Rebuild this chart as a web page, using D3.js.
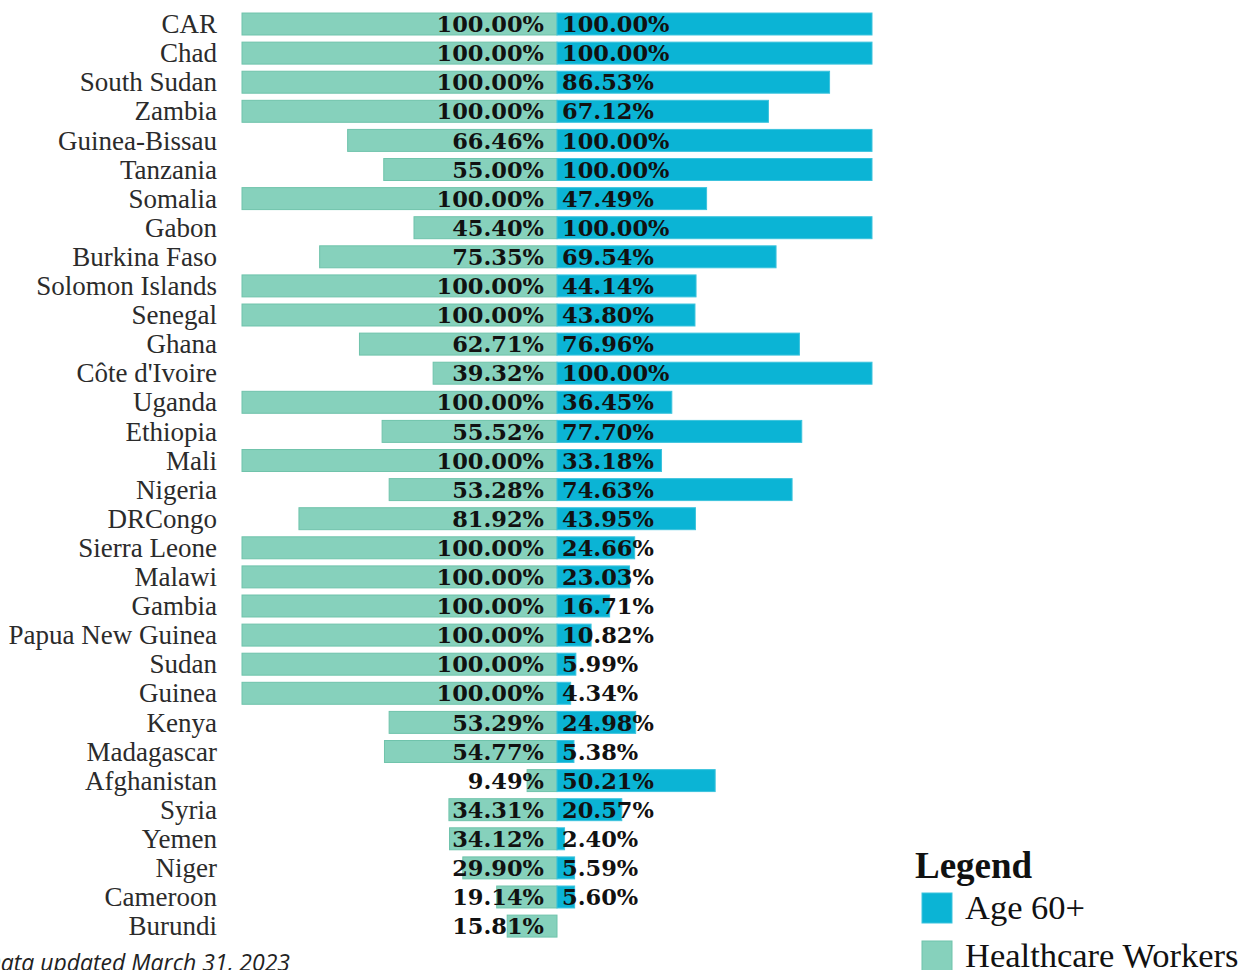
<!DOCTYPE html>
<html>
<head>
<meta charset="utf-8">
<script src="https://cdn.jsdelivr.net/npm/d3@7"></script>
<style>
  body { margin: 0; background: #fff; }
  svg { display: block; }
</style>
</head>
<body>
<div id="chart"></div>
<script>
// chart data
var countries = ["CAR", "Chad", "South Sudan", "Zambia", "Guinea-Bissau", "Tanzania", "Somalia", "Gabon",
  "Burkina Faso", "Solomon Islands", "Senegal", "Ghana", "Côte d'Ivoire", "Uganda", "Ethiopia", "Mali",
  "Nigeria", "DRCongo", "Sierra Leone", "Malawi", "Gambia", "Papua New Guinea", "Sudan", "Guinea",
  "Kenya", "Madagascar", "Afghanistan", "Syria", "Yemen", "Niger", "Cameroon", "Burundi"];
var healthcareWorkers = [100, 100, 100, 100, 66.46, 55.00, 100, 45.40, 75.35, 100, 100, 62.71, 39.32, 100,
  55.52, 100, 53.28, 81.92, 100, 100, 100, 100, 100, 100, 53.29, 54.77, 9.49, 34.31, 34.12, 29.90, 19.14, 15.81];
var age60 = [100, 100, 86.53, 67.12, 100, 100, 47.49, 100, 69.54, 44.14, 43.80, 76.96, 100, 36.45, 77.70,
  33.18, 74.63, 43.95, 24.66, 23.03, 16.71, 10.82, 5.99, 4.34, 24.98, 5.38, 50.21, 20.57, 2.40, 5.59, 5.60, null];
var legendLabels = ["Age 60+", "Healthcare Workers"];

var svgWidth = 1248;
var svgHeight = 970;
var centerX = 557;
var cyan = "#0bb4d5";
var teal = "#86d1bc";

var svg = d3.select("#chart").append("svg")
  .attr("width", svgWidth)
  .attr("height", svgHeight);

var rows = countries.map(function(c, i) {
  return { country: c, hcw: healthcareWorkers[i], age: age60[i] };
});

// same scale on both sides of the centre line
var xScale = d3.scaleLinear().domain([0, 100]).range([0, 315]);
var yScale = d3.scaleBand()
  .domain(countries)
  .range([5.9, 944.2])
  .paddingInner(0.245)
  .paddingOuter(0.245);

var rowGroup = svg.selectAll(".row")
  .data(rows)
  .enter()
  .append("g")
  .attr("class", "row")
  .attr("transform", d => `translate(0, ${yScale(d.country)})`);

var bh = yScale.bandwidth();

// healthcare workers bars go left
rowGroup.append("rect")
  .attr("x", d => centerX - xScale(d.hcw))
  .attr("y", 0)
  .attr("width", d => xScale(d.hcw))
  .attr("height", bh)
  .attr("fill", teal)
  .attr("stroke", "#6fc3ab")
  .attr("stroke-width", 1);

// age 60+ bars go right
rowGroup.filter(d => d.age != null).append("rect")
  .attr("x", centerX)
  .attr("y", 0)
  .attr("width", d => xScale(d.age))
  .attr("height", bh)
  .attr("fill", cyan)
  .attr("stroke", "#3cc3dd")
  .attr("stroke-width", 1);

// country names
rowGroup.append("text")
  .attr("x", 217)
  .attr("y", bh / 2)
  .attr("dy", "0.34em")
  .attr("text-anchor", "end")
  .style("font-family", "'Liberation Serif', serif")
  .style("font-size", "27px")
  .style("fill", "#2b2b2b")
  .text(d => d.country);

// value labels
rowGroup.append("text")
  .attr("x", centerX - 13)
  .attr("y", bh / 2)
  .attr("dy", "0.36em")
  .attr("text-anchor", "end")
  .style("font-family", "'DejaVu Serif', serif")
  .style("font-weight", "bold")
  .style("font-size", "22.5px")
  .style("fill", "#111")
  .text(d => d.hcw.toFixed(2) + "%");

rowGroup.filter(d => d.age != null).append("text")
  .attr("x", centerX + 5)
  .attr("y", bh / 2)
  .attr("dy", "0.36em")
  .style("font-family", "'DejaVu Serif', serif")
  .style("font-weight", "bold")
  .style("font-size", "22.5px")
  .style("fill", "#111")
  .text(d => d.age.toFixed(2) + "%");

// legend
var legend = svg.append("g").attr("transform", "translate(915, 0)");
legend.append("text")
  .attr("x", 0)
  .attr("y", 878)
  .style("font-family", "'Liberation Serif', serif")
  .style("font-weight", "bold")
  .style("font-size", "37px")
  .style("fill", "#111")
  .text("Legend");

var legendItems = legend.selectAll(".item")
  .data(legendLabels)
  .enter()
  .append("g")
  .attr("class", "item")
  .attr("transform", (d, i) => `translate(0, ${893 + i * 48})`);

legendItems.append("rect")
  .attr("x", 7)
  .attr("y", 0)
  .attr("width", 30)
  .attr("height", 30)
  .attr("fill", (d, i) => i === 0 ? cyan : teal)
  .attr("stroke", (d, i) => i === 0 ? "#3cc3dd" : "#6fc3ab");

legendItems.append("text")
  .attr("x", 50)
  .attr("y", 26)
  .style("font-family", "'Liberation Serif', serif")
  .style("font-size", "34.5px")
  .style("fill", "#111")
  .text(d => d);

// footnote, clipped at the page edge like the original
svg.append("text")
  .attr("x", 290)
  .attr("y", 971)
  .attr("text-anchor", "end")
  .style("font-family", "'Open Sans', sans-serif")
  .style("font-style", "italic")
  .style("font-size", "23px")
  .style("fill", "#222")
  .text("Data updated March 31, 2023");
</script>
</body>
</html>
